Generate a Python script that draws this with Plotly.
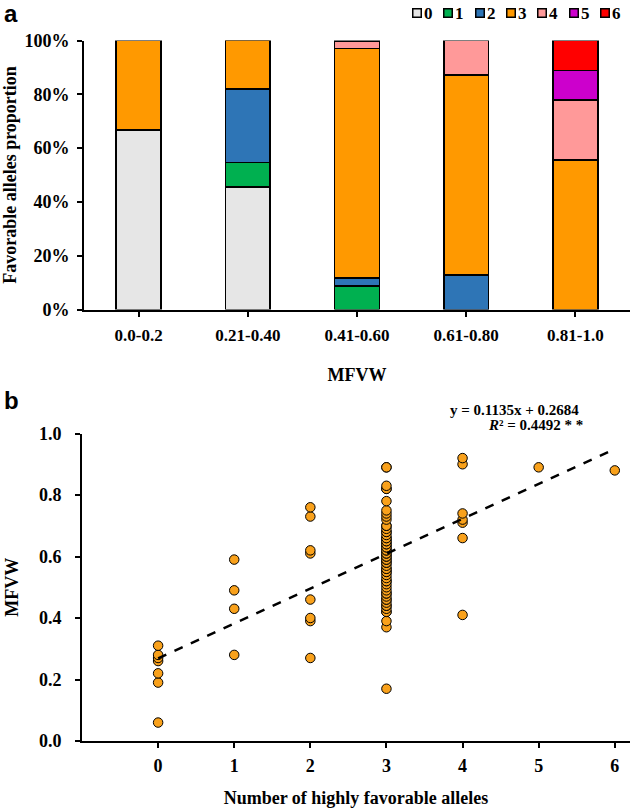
import plotly.graph_objects as go

W, H = 632, 808

# ---- Panel a data ----
groups = ["0.0-0.2", "0.21-0.40", "0.41-0.60", "0.61-0.80", "0.81-1.0"]
allele_names = ["0", "1", "2", "3", "4", "5", "6"]
pct_0 = [66.7, 45.5, None, None, None]
pct_1 = [None, 9.1, 8.8, None, None]
pct_2 = [None, 27.3, 2.9, 12.9, None]
pct_3 = [33.3, 18.2, 85.3, 74.2, 55.6]
pct_4 = [None, None, 2.9, 12.9, 22.2]
pct_5 = [None, None, None, None, 11.1]
pct_6 = [None, None, None, None, 11.1]
allele_colors = ["#E6E6E6", "#00B050", "#2E75B6", "#FF9900", "#FF9999", "#CC00CC", "#FF0000"]
pct_ticks = [0, 20, 40, 60, 80, 100]

# ---- Panel b data ----
x_zero = [0, 0, 0, 0, 0, 0, 0]
y_zero = [0.06, 0.19, 0.22, 0.26, 0.27, 0.28, 0.31]
x_one = [1, 1, 1, 1]
y_one = [0.28, 0.43, 0.49, 0.59]
x_two = [2, 2, 2, 2, 2, 2, 2, 2]
y_two = [0.27, 0.39, 0.40, 0.46, 0.61, 0.62, 0.73, 0.76]
y_three = [0.17, 0.37, 0.39,
           0.42, 0.42, 0.43, 0.44, 0.44, 0.45, 0.46, 0.46, 0.47, 0.48, 0.48,
           0.49, 0.50, 0.51, 0.52, 0.52, 0.53, 0.54, 0.55, 0.55, 0.56, 0.56,
           0.57, 0.58, 0.58, 0.59, 0.59, 0.60, 0.60,
           0.61, 0.61, 0.62, 0.62, 0.63, 0.63, 0.64, 0.64, 0.65, 0.65, 0.66,
           0.66, 0.67, 0.68, 0.68, 0.69, 0.70, 0.70, 0.72, 0.73, 0.74, 0.75, 0.78,
           0.82, 0.82, 0.83, 0.89, 0.89]
x_three = [3] * len(y_three)
x_four = [4, 4, 4, 4, 4, 4, 4]
y_four = [0.41, 0.66, 0.71, 0.72, 0.74, 0.90, 0.92]
x_five = [5]
y_five = [0.89]
x_six = [6]
y_six = [0.88]
slope, intercept = 0.1135, 0.2684
fit_x = [0, 6]
mfvw_ticks = [0.0, 0.2, 0.4, 0.6, 0.8, 1.0]
count_ticks = [0, 1, 2, 3, 4, 5, 6]

serif = "Liberation Serif"


def py(px):
    return 1 - px / H


fig = go.Figure()
series = [pct_0, pct_1, pct_2, pct_3, pct_4, pct_5, pct_6]
for name, vals, col in zip(allele_names, series, allele_colors):
    fig.add_trace(go.Bar(
        x=groups, y=vals, name=name,
        marker=dict(color=col, line=dict(color="black", width=1.5)),
        width=0.41, xaxis="x", yaxis="y", showlegend=False))

all_x = x_zero + x_one + x_two + x_three + x_four + x_five + x_six
all_y = y_zero + y_one + y_two + y_three + y_four + y_five + y_six
fig.add_trace(go.Scatter(
    x=all_x, y=all_y, mode="markers", showlegend=False,
    marker=dict(color="#F9A11B", size=9.5, line=dict(color="black", width=1)),
    xaxis="x2", yaxis="y2", cliponaxis=False))
fig.add_trace(go.Scatter(
    x=fit_x, y=[slope * v + intercept for v in fit_x], mode="lines", showlegend=False,
    line=dict(color="black", width=2.5, dash="dash"), xaxis="x2", yaxis="y2"))

axis_common = dict(showline=True, linecolor="black", linewidth=2, ticks="outside",
                   tickcolor="black", tickwidth=1.5, ticklen=5, showgrid=False,
                   zeroline=False, automargin=False)

title_font = dict(family=serif, size=18, color="black")

annotations = [
    dict(text="<b>a</b>", x=2 / W, y=py(-2), xref="paper", yref="paper", xanchor="left", yanchor="top",
         showarrow=False, font=dict(family="Liberation Sans", size=24, color="black")),
    dict(text="<b>b</b>", x=2 / W, y=py(385), xref="paper", yref="paper", xanchor="left", yanchor="top",
         showarrow=False, font=dict(family="Liberation Sans", size=24, color="black")),
    dict(text="<b>y = 0.1135x + 0.2684</b>", x=581 / W, y=py(410), xref="paper", yref="paper",
         xanchor="right", yanchor="middle", showarrow=False, font=dict(family=serif, size=15, color="black")),
    dict(text="<b><i>R</i>² = 0.4492 * *</b>", x=585 / W, y=py(425), xref="paper", yref="paper",
         xanchor="right", yanchor="middle", showarrow=False, font=dict(family=serif, size=15, color="black")),
]

# manual compact legend (box + label) for the allele classes
leg_x0, leg_step, leg_y = 417, 31.3, 13
for i, (name, col) in enumerate(zip(allele_names, allele_colors)):
    bx = leg_x0 + i * leg_step
    annotations.append(dict(
        text=" ", x=bx / W, y=py(leg_y), xref="paper", yref="paper", xanchor="center", yanchor="middle",
        showarrow=False, width=7, height=7, bgcolor=col, bordercolor="black", borderwidth=1.5,
        borderpad=0, font=dict(size=4)))
    annotations.append(dict(
        text="<b>%s</b>" % name, x=(bx + 5) / W, y=py(leg_y), xref="paper", yref="paper",
        xanchor="left", yanchor="middle", showarrow=False,
        font=dict(family=serif, size=17, color="black")))

fig.update_layout(
    width=W, height=H, margin=dict(l=0, r=0, t=0, b=0, autoexpand=False),
    paper_bgcolor="white", plot_bgcolor="white", barmode="stack", showlegend=False,
    xaxis=dict(domain=[84 / W, 630 / W], anchor="y", range=[-0.5, 4.5],
               tickvals=groups, ticktext=["<b>%s</b>" % g for g in groups],
               tickfont=dict(family=serif, size=17, color="black"), ticklabelstandoff=4,
               title=dict(text="<b>MFVW</b>", font=title_font, standoff=24),
               **axis_common),
    yaxis=dict(domain=[py(309.5), py(40.5)], anchor="x", range=[0, 100], tickvals=pct_ticks,
               ticktext=["<b>%d%%</b>" % v for v in pct_ticks],
               tickfont=dict(family=serif, size=18, color="black"), ticklabelstandoff=4,
               title=dict(text="<b>Favorable alleles proportion</b>", font=title_font, standoff=6),
               **axis_common),
    xaxis2=dict(domain=[82 / W, 630 / W], anchor="y2", range=[-1, 6.2], tickvals=count_ticks,
                ticktext=["<b>%d</b>" % v for v in count_ticks],
                tickfont=dict(family=serif, size=18, color="black"), ticklabelstandoff=2,
                title=dict(text="<b>Number of highly favorable alleles</b>", font=title_font, standoff=18),
                **axis_common),
    yaxis2=dict(domain=[py(741), py(433.5)], anchor="x2", range=[0, 1.0], tickvals=mfvw_ticks,
                ticktext=["<b>%.1f</b>" % v for v in mfvw_ticks],
                tickfont=dict(family=serif, size=18, color="black"), ticklabelstandoff=10,
                title=dict(text="<b>MFVW</b>", font=title_font, standoff=16),
                **axis_common),
    font=dict(family=serif, color="black"),
    annotations=annotations,
)

fig.write_html("out.html", config={"displayModeBar": False},
               post_script="document.body.style.margin='0';document.body.style.overflow='hidden';")
